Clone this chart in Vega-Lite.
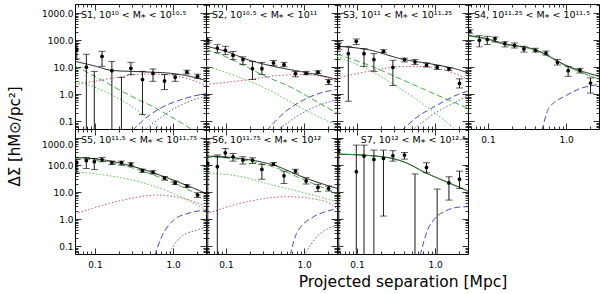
{
"$schema":"https://vega.github.io/schema/vega-lite/v6.json",
"padding":{"left":6,"top":3,"right":2,"bottom":2},
"background":"white",
"config":{
 "view":{"stroke":"black","strokeWidth":1},
 "axis":{"domain":false,"grid":false,"tickColor":"black","tickWidth":0.8,"labelFont":"DejaVu Sans","labelFontSize":9,"labelColor":"black","labelOverlap":false,"labelFlush":false,"titleFont":"DejaVu Sans","titleFontWeight":"normal","titleColor":"black","titleFontSize":15},
 "title":{"anchor":"start","frame":"group","offset":-16,"dx":6,"font":"DejaVu Sans","fontSize":9.5,"fontWeight":"normal","color":"black"}
},
"datasets":{
 "pts":[
  {"p":"S1","r":0.0585,"y":45,"lo":20,"hi":75},{"p":"S1","r":0.0775,"y":10,"lo":0.01,"hi":30},{"p":"S1","r":0.098,"y":null,"lo":0.01,"hi":7.0},{"p":"S1","r":0.123,"y":25,"lo":10.8,"hi":38.5},{"p":"S1","r":0.1645,"y":7.4,"lo":0.01,"hi":16.4},{"p":"S1","r":0.218,"y":null,"lo":0.01,"hi":4.2},{"p":"S1","r":0.288,"y":9.1,"lo":5.3,"hi":15.1},{"p":"S1","r":0.405,"y":3.5,"lo":0.177,"hi":7.0},{"p":"S1","r":0.552,"y":5.9,"lo":3.0,"hi":8.6},{"p":"S1","r":0.775,"y":3.1,"lo":1.48,"hi":5.3},{"p":"S1","r":1.06,"y":4.2,"lo":3.0,"hi":5.3},{"p":"S1","r":1.5,"y":6.5,"lo":5.6,"hi":7.7},{"p":"S1","r":2.05,"y":4.6,"lo":3.9,"hi":5.5},
  {"p":"S2","r":0.0585,"y":98,"lo":80,"hi":125},{"p":"S2","r":0.0775,"y":51,"lo":35,"hi":68},{"p":"S2","r":0.098,"y":42,"lo":29,"hi":59},{"p":"S2","r":0.123,"y":27,"lo":19,"hi":38},{"p":"S2","r":0.1645,"y":19,"lo":12.4,"hi":24},{"p":"S2","r":0.218,"y":8.8,"lo":3.5,"hi":16.4},{"p":"S2","r":0.288,"y":8.8,"lo":5.3,"hi":15.1},{"p":"S2","r":0.405,"y":14.3,"lo":11.7,"hi":17.7},{"p":"S2","r":0.552,"y":12.4,"lo":10.4,"hi":15.1},{"p":"S2","r":0.775,"y":5.8,"lo":4.4,"hi":7.0},{"p":"S2","r":1.06,"y":5.9,"lo":5.3,"hi":7.0},{"p":"S2","r":1.5,"y":6.5,"lo":5.8,"hi":7.3},{"p":"S2","r":2.05,"y":2.9,"lo":2.3,"hi":3.5},
  {"p":"S3","r":0.0585,"y":59,"lo":44,"hi":78},{"p":"S3","r":0.0775,"y":31.6,"lo":0.55,"hi":59},{"p":"S3","r":0.098,"y":90,"lo":68,"hi":110},{"p":"S3","r":0.123,"y":31.6,"lo":10.7,"hi":48},{"p":"S3","r":0.1645,"y":19,"lo":7,"hi":31.6},{"p":"S3","r":0.218,"y":38.5,"lo":34,"hi":44},{"p":"S3","r":0.288,"y":9.9,"lo":2.1,"hi":18},{"p":"S3","r":0.405,"y":19,"lo":15.6,"hi":21.6},{"p":"S3","r":0.552,"y":15.6,"lo":12.4,"hi":19},{"p":"S3","r":0.775,"y":12,"lo":10.1,"hi":14.3},{"p":"S3","r":1.06,"y":9.9,"lo":8.2,"hi":11.7},{"p":"S3","r":1.5,"y":8.6,"lo":7.7,"hi":9.6},{"p":"S3","r":2.05,"y":2.5,"lo":1.7,"hi":3.7},
  {"p":"S4","r":0.0585,"y":210,"lo":180,"hi":240},{"p":"S4","r":0.0775,"y":98,"lo":56,"hi":146},{"p":"S4","r":0.098,"y":104,"lo":68,"hi":138},{"p":"S4","r":0.123,"y":113,"lo":85,"hi":130},{"p":"S4","r":0.1645,"y":74,"lo":56,"hi":87},{"p":"S4","r":0.218,"y":64,"lo":51,"hi":78},{"p":"S4","r":0.288,"y":47,"lo":36,"hi":59},{"p":"S4","r":0.405,"y":42,"lo":36,"hi":50},{"p":"S4","r":0.552,"y":33,"lo":28,"hi":39.5},{"p":"S4","r":0.775,"y":15.1,"lo":12,"hi":19},{"p":"S4","r":1.06,"y":7.4,"lo":4.6,"hi":10.7},{"p":"S4","r":1.5,"y":7.7,"lo":6.1,"hi":9.1},{"p":"S4","r":2.05,"y":2.6,"lo":1.1,"hi":4.0},
  {"p":"S5","r":0.0585,"y":122,"lo":49,"hi":162},{"p":"S5","r":0.0775,"y":145,"lo":75,"hi":192},{"p":"S5","r":0.098,"y":133,"lo":69,"hi":175},{"p":"S5","r":0.123,"y":157,"lo":133,"hi":192},{"p":"S5","r":0.1645,"y":122,"lo":105,"hi":140},{"p":"S5","r":0.218,"y":122,"lo":100,"hi":140},{"p":"S5","r":0.288,"y":106,"lo":92,"hi":122},{"p":"S5","r":0.405,"y":62,"lo":54,"hi":71},{"p":"S5","r":0.552,"y":54,"lo":47,"hi":62},{"p":"S5","r":0.775,"y":33,"lo":28,"hi":38},{"p":"S5","r":1.06,"y":22,"lo":19,"hi":25.5},{"p":"S5","r":1.5,"y":16.8,"lo":15,"hi":18.8},{"p":"S5","r":2.05,"y":7.8,"lo":6.4,"hi":9.5},
  {"p":"S6","r":0.0585,"y":116,"lo":0.01,"hi":650},{"p":"S6","r":0.0775,"y":87,"lo":0.01,"hi":236},{"p":"S6","r":0.098,"y":285,"lo":192,"hi":412},{"p":"S6","r":0.123,"y":203,"lo":140,"hi":270},{"p":"S6","r":0.1645,"y":153,"lo":109,"hi":203},{"p":"S6","r":0.218,"y":153,"lo":115,"hi":186},{"p":"S6","r":0.288,"y":69,"lo":30,"hi":106},{"p":"S6","r":0.405,"y":109,"lo":96,"hi":125},{"p":"S6","r":0.552,"y":40,"lo":21,"hi":60},{"p":"S6","r":0.775,"y":60,"lo":50,"hi":70},{"p":"S6","r":1.06,"y":26,"lo":20,"hi":34},{"p":"S6","r":1.5,"y":15,"lo":10.4,"hi":19.5},{"p":"S6","r":2.05,"y":13.8,"lo":11,"hi":16.8},
  {"p":"S7","r":0.0585,"y":360,"lo":0.01,"hi":900},{"p":"S7","r":0.098,"y":57,"lo":0.01,"hi":547},{"p":"S7","r":0.123,"y":215,"lo":0.01,"hi":547},{"p":"S7","r":0.1645,"y":162,"lo":0.01,"hi":358},{"p":"S7","r":0.218,"y":176,"lo":1.31,"hi":358},{"p":"S7","r":0.288,"y":221,"lo":140,"hi":340},{"p":"S7","r":0.405,"y":234,"lo":166,"hi":293},{"p":"S7","r":0.552,"y":null,"lo":0.01,"hi":47},{"p":"S7","r":0.775,"y":82,"lo":52,"hi":122},{"p":"S7","r":1.06,"y":null,"lo":0.01,"hi":13},{"p":"S7","r":1.5,"y":22,"lo":5.1,"hi":37},{"p":"S7","r":2.05,"y":30,"lo":13.8,"hi":60}
 ],
 "mod":[
  {"p":"S1","c":"tot","r":0.0555,"v":16.4},{"p":"S1","c":"tot","r":0.1,"v":11},{"p":"S1","c":"tot","r":0.164,"v":7.6},{"p":"S1","c":"tot","r":0.374,"v":6.8},{"p":"S1","c":"tot","r":1.0,"v":5.8},{"p":"S1","c":"tot","r":1.8,"v":4.3},{"p":"S1","c":"tot","r":2.63,"v":3.2},
  {"p":"S1","c":"g1","r":0.0555,"v":11},{"p":"S1","c":"g1","r":0.119,"v":3.5},{"p":"S1","c":"g1","r":0.2,"v":1.5},{"p":"S1","c":"g1","r":0.317,"v":0.75},{"p":"S1","c":"g1","r":0.55,"v":0.35},{"p":"S1","c":"g1","r":0.86,"v":0.17},{"p":"S1","c":"g1","r":1.3,"v":0.085},{"p":"S1","c":"g1","r":1.8,"v":0.045},
  {"p":"S1","c":"g2","r":0.0555,"v":3.2},{"p":"S1","c":"g2","r":0.1,"v":1.8},{"p":"S1","c":"g2","r":0.2,"v":0.7},{"p":"S1","c":"g2","r":0.35,"v":0.25},{"p":"S1","c":"g2","r":0.55,"v":0.09},{"p":"S1","c":"g2","r":0.8,"v":0.04},
  {"p":"S1","c":"red","r":0.0555,"v":2.3},{"p":"S1","c":"red","r":0.1,"v":3.0},{"p":"S1","c":"red","r":0.2,"v":4.3},{"p":"S1","c":"red","r":0.4,"v":5.5},{"p":"S1","c":"red","r":0.8,"v":5.3},{"p":"S1","c":"red","r":1.5,"v":3.8},{"p":"S1","c":"red","r":2.63,"v":2.1},
  {"p":"S1","c":"b1","r":0.3,"v":0.045},{"p":"S1","c":"b1","r":0.5,"v":0.17},{"p":"S1","c":"b1","r":0.8,"v":0.38},{"p":"S1","c":"b1","r":1.2,"v":0.6},{"p":"S1","c":"b1","r":1.8,"v":0.85},{"p":"S1","c":"b1","r":2.63,"v":1.05},
  {"p":"S1","c":"b2","r":0.42,"v":0.045},{"p":"S1","c":"b2","r":0.7,"v":0.14},{"p":"S1","c":"b2","r":1.0,"v":0.28},{"p":"S1","c":"b2","r":1.5,"v":0.5},{"p":"S1","c":"b2","r":2.63,"v":0.85},
  {"p":"S2","c":"tot","r":0.0555,"v":60},{"p":"S2","c":"tot","r":0.1,"v":38},{"p":"S2","c":"tot","r":0.2,"v":18},{"p":"S2","c":"tot","r":0.405,"v":10.7},{"p":"S2","c":"tot","r":1.0,"v":6.5},{"p":"S2","c":"tot","r":2.0,"v":4.3},{"p":"S2","c":"tot","r":2.63,"v":3.5},
  {"p":"S2","c":"g1","r":0.0555,"v":45},{"p":"S2","c":"g1","r":0.1,"v":24},{"p":"S2","c":"g1","r":0.156,"v":13},{"p":"S2","c":"g1","r":0.3,"v":5},{"p":"S2","c":"g1","r":0.68,"v":1.8},{"p":"S2","c":"g1","r":1.5,"v":0.5},{"p":"S2","c":"g1","r":2.63,"v":0.2},
  {"p":"S2","c":"g2","r":0.0555,"v":11},{"p":"S2","c":"g2","r":0.156,"v":4},{"p":"S2","c":"g2","r":0.4,"v":1.2},{"p":"S2","c":"g2","r":0.68,"v":0.5},{"p":"S2","c":"g2","r":1.5,"v":0.15},{"p":"S2","c":"g2","r":2.63,"v":0.07},
  {"p":"S2","c":"red","r":0.0555,"v":2.3},{"p":"S2","c":"red","r":0.2,"v":3.5},{"p":"S2","c":"red","r":0.5,"v":5},{"p":"S2","c":"red","r":1.0,"v":5.3},{"p":"S2","c":"red","r":2.0,"v":4},{"p":"S2","c":"red","r":2.63,"v":3},
  {"p":"S2","c":"b1","r":0.33,"v":0.045},{"p":"S2","c":"b1","r":0.6,"v":0.25},{"p":"S2","c":"b1","r":1.0,"v":0.63},{"p":"S2","c":"b1","r":1.6,"v":1.1},{"p":"S2","c":"b1","r":2.63,"v":1.5},
  {"p":"S2","c":"b2","r":0.45,"v":0.045},{"p":"S2","c":"b2","r":0.8,"v":0.15},{"p":"S2","c":"b2","r":1.3,"v":0.32},{"p":"S2","c":"b2","r":2.63,"v":0.63},
  {"p":"S3","c":"tot","r":0.0555,"v":59},{"p":"S3","c":"tot","r":0.14,"v":44},{"p":"S3","c":"tot","r":0.374,"v":20},{"p":"S3","c":"tot","r":1.0,"v":12.4},{"p":"S3","c":"tot","r":2.0,"v":8},{"p":"S3","c":"tot","r":2.63,"v":6.1},
  {"p":"S3","c":"g1","r":0.0555,"v":30},{"p":"S3","c":"g1","r":0.14,"v":12},{"p":"S3","c":"g1","r":0.374,"v":3.5},{"p":"S3","c":"g1","r":1.0,"v":1},{"p":"S3","c":"g1","r":2.63,"v":0.3},
  {"p":"S3","c":"g2","r":0.0555,"v":25},{"p":"S3","c":"g2","r":0.14,"v":8},{"p":"S3","c":"g2","r":0.374,"v":1.5},{"p":"S3","c":"g2","r":1.0,"v":0.2},{"p":"S3","c":"g2","r":1.8,"v":0.05},
  {"p":"S3","c":"red","r":0.0555,"v":4},{"p":"S3","c":"red","r":0.14,"v":7},{"p":"S3","c":"red","r":0.374,"v":10.5},{"p":"S3","c":"red","r":0.7,"v":10.5},{"p":"S3","c":"red","r":1.5,"v":7},{"p":"S3","c":"red","r":2.63,"v":3.5},
  {"p":"S3","c":"b1","r":0.37,"v":0.045},{"p":"S3","c":"b1","r":0.6,"v":0.15},{"p":"S3","c":"b1","r":1.0,"v":0.36},{"p":"S3","c":"b1","r":2.0,"v":1.0},{"p":"S3","c":"b1","r":2.63,"v":1.3},
  {"p":"S3","c":"b2","r":0.5,"v":0.045},{"p":"S3","c":"b2","r":1.0,"v":0.2},{"p":"S3","c":"b2","r":1.8,"v":0.5},{"p":"S3","c":"b2","r":2.63,"v":0.9},
  {"p":"S4","c":"tot","r":0.0555,"v":150},{"p":"S4","c":"tot","r":0.1,"v":110},{"p":"S4","c":"tot","r":0.151,"v":77},{"p":"S4","c":"tot","r":0.405,"v":44},{"p":"S4","c":"tot","r":1.07,"v":10.7},{"p":"S4","c":"tot","r":2.63,"v":4.6},
  {"p":"S4","c":"gs","r":0.0555,"v":142},{"p":"S4","c":"gs","r":0.1,"v":104},{"p":"S4","c":"gs","r":0.151,"v":73},{"p":"S4","c":"gs","r":0.405,"v":42},{"p":"S4","c":"gs","r":1.07,"v":10},{"p":"S4","c":"gs","r":2.63,"v":3.6},
  {"p":"S4","c":"b1","r":0.49,"v":0.045},{"p":"S4","c":"b1","r":0.6,"v":0.3},{"p":"S4","c":"b1","r":1.0,"v":0.9},{"p":"S4","c":"b1","r":1.5,"v":1.6},{"p":"S4","c":"b1","r":2.63,"v":2.3},
  {"p":"S5","c":"tot","r":0.0555,"v":190},{"p":"S5","c":"tot","r":0.14,"v":150},{"p":"S5","c":"tot","r":0.374,"v":75},{"p":"S5","c":"tot","r":1.0,"v":28},{"p":"S5","c":"tot","r":2.63,"v":9},
  {"p":"S5","c":"g1","r":0.0555,"v":170},{"p":"S5","c":"g1","r":0.14,"v":135},{"p":"S5","c":"g1","r":0.374,"v":65},{"p":"S5","c":"g1","r":1.0,"v":22},{"p":"S5","c":"g1","r":2.63,"v":6},
  {"p":"S5","c":"g2","r":0.0555,"v":57},{"p":"S5","c":"g2","r":0.14,"v":42},{"p":"S5","c":"g2","r":0.374,"v":24},{"p":"S5","c":"g2","r":1.0,"v":9},{"p":"S5","c":"g2","r":2.63,"v":2.2},
  {"p":"S5","c":"red","r":0.0555,"v":1.55},{"p":"S5","c":"red","r":0.229,"v":5.1},{"p":"S5","c":"red","r":0.61,"v":7.8},{"p":"S5","c":"red","r":1.35,"v":5.9},{"p":"S5","c":"red","r":2.63,"v":2.9},
  {"p":"S5","c":"b1","r":0.58,"v":0.045},{"p":"S5","c":"b1","r":0.7,"v":0.2},{"p":"S5","c":"b1","r":1.0,"v":0.9},{"p":"S5","c":"b1","r":1.5,"v":1.6},{"p":"S5","c":"b1","r":2.63,"v":2.2},
  {"p":"S5","c":"b2","r":0.86,"v":0.045},{"p":"S5","c":"b2","r":1.2,"v":0.2},{"p":"S5","c":"b2","r":2.0,"v":0.4},{"p":"S5","c":"b2","r":2.63,"v":0.5},
  {"p":"S6","c":"tot","r":0.0555,"v":215},{"p":"S6","c":"tot","r":0.151,"v":176},{"p":"S6","c":"tot","r":0.405,"v":100},{"p":"S6","c":"tot","r":1.07,"v":32},{"p":"S6","c":"tot","r":2.63,"v":13.8},
  {"p":"S6","c":"g1","r":0.0555,"v":200},{"p":"S6","c":"g1","r":0.151,"v":160},{"p":"S6","c":"g1","r":0.405,"v":85},{"p":"S6","c":"g1","r":1.07,"v":26},{"p":"S6","c":"g1","r":2.63,"v":9},
  {"p":"S6","c":"g2","r":0.0555,"v":52},{"p":"S6","c":"g2","r":0.151,"v":38},{"p":"S6","c":"g2","r":0.405,"v":18},{"p":"S6","c":"g2","r":1.07,"v":9},{"p":"S6","c":"g2","r":2.63,"v":4.4},
  {"p":"S6","c":"red","r":0.0555,"v":1.55},{"p":"S6","c":"red","r":0.184,"v":4.4},{"p":"S6","c":"red","r":0.6,"v":6.8},{"p":"S6","c":"red","r":1.77,"v":4.8},{"p":"S6","c":"red","r":2.63,"v":2.5},
  {"p":"S6","c":"b1","r":0.66,"v":0.045},{"p":"S6","c":"b1","r":0.8,"v":0.3},{"p":"S6","c":"b1","r":1.32,"v":1.24},{"p":"S6","c":"b1","r":2.0,"v":2.0},{"p":"S6","c":"b1","r":2.63,"v":2.5},
  {"p":"S6","c":"b2","r":0.99,"v":0.045},{"p":"S6","c":"b2","r":1.5,"v":0.25},{"p":"S6","c":"b2","r":2.0,"v":0.45},{"p":"S6","c":"b2","r":2.63,"v":0.6},
  {"p":"S7","c":"tot","r":0.0555,"v":255},{"p":"S7","c":"tot","r":0.218,"v":200},{"p":"S7","c":"tot","r":0.4,"v":130},{"p":"S7","c":"tot","r":0.775,"v":50},{"p":"S7","c":"tot","r":1.5,"v":22},{"p":"S7","c":"tot","r":2.63,"v":11},
  {"p":"S7","c":"gs","r":0.0555,"v":255},{"p":"S7","c":"gs","r":0.218,"v":200},{"p":"S7","c":"gs","r":0.4,"v":130},{"p":"S7","c":"gs","r":0.775,"v":50},{"p":"S7","c":"gs","r":1.5,"v":22},{"p":"S7","c":"gs","r":2.63,"v":11},
  {"p":"S7","c":"b1","r":0.64,"v":0.045},{"p":"S7","c":"b1","r":0.8,"v":0.4},{"p":"S7","c":"b1","r":1.0,"v":1.1},{"p":"S7","c":"b1","r":1.35,"v":2.0},{"p":"S7","c":"b1","r":2.0,"v":2.8},{"p":"S7","c":"b1","r":2.63,"v":2.9}
 ]
},
"columns":4,
"spacing":0,
"bounds":"flush",
"concat":[
 {"width":131,"height":125,"title":{"text":"S1, 10¹⁰ < M⁎ < 10¹⁰·⁵"},
  "layer":[
   {"layer":[
    {"data":{"name":"mod"},"transform":[{"filter":"datum.p=='S1'"}],"mark":{"type":"line","clip":true,"strokeWidth":0.9,"interpolate":"monotone"},
     "encoding":{"x":{"field":"r","type":"quantitative","scale":{"type":"log","domain":[0.0555,2.63],"nice":false},"axis":{"orient":"bottom","values":[0.06,0.07,0.08,0.09,0.1,0.2,0.3,0.4,0.5,0.6,0.7,0.8,0.9,1,2],"title":null,"tickSize":{"condition":{"test":"abs(log(datum.value)/LN10-round(log(datum.value)/LN10))<0.01","value":-6},"value":-3},"labels":false}},
      "y":{"field":"v","type":"quantitative","scale":{"type":"log","domain":[0.052,2150],"nice":false},"axis":{"orient":"left","values":[0.06,0.07,0.08,0.09,0.1,0.2,0.3,0.4,0.5,0.6,0.7,0.8,0.9,1,2,3,4,5,6,7,8,9,10,20,30,40,50,60,70,80,90,100,200,300,400,500,600,700,800,900,1000],"title":"ΔΣ [hM⊙/pc²]","titleX":-61,"titleY":132,"titleAlign":"center","titleBaseline":"middle","titleAngle":270,"tickSize":{"condition":{"test":"abs(log(datum.value)/LN10-round(log(datum.value)/LN10))<0.01","value":-6},"value":-3},"labelExpr":"abs(log(datum.value)/LN10-round(log(datum.value)/LN10))<0.01 ? format(datum.value,'.1f') : ''","labelPadding":8}},
      "color":{"field":"c","type":"nominal","scale":{"domain":["tot","gs","g1","g2","red","b1","b2"],"range":["#000000","#2e8b2e","#33a333","#44b844","#c8406a","#3535b5","#4848c4"]},"legend":null},
      "strokeDash":{"field":"c","type":"nominal","scale":{"domain":["tot","gs","g1","g2","red","b1","b2"],"range":[[1,0],[1,0],[6,3],[1.5,2],[1.5,2],[6,3],[1.5,2]]},"legend":null}}},
    {"data":{"name":"pts"},"transform":[{"filter":"datum.p=='S1'"}],"mark":{"type":"rule","clip":true,"color":"black","strokeWidth":0.9},"encoding":{"x":{"field":"r","type":"quantitative"},"y":{"field":"lo","type":"quantitative"},"y2":{"field":"hi"}}},
    {"data":{"name":"pts"},"transform":[{"filter":"datum.p=='S1'"}],"mark":{"type":"tick","clip":true,"orient":"horizontal","size":7,"thickness":0.9,"color":"black"},"encoding":{"x":{"field":"r","type":"quantitative"},"y":{"field":"hi","type":"quantitative"}}},
    {"data":{"name":"pts"},"transform":[{"filter":"datum.p=='S1'"}],"mark":{"type":"tick","clip":true,"orient":"horizontal","size":7,"thickness":0.9,"color":"black"},"encoding":{"x":{"field":"r","type":"quantitative"},"y":{"field":"lo","type":"quantitative"}}},
    {"data":{"name":"pts"},"transform":[{"filter":"datum.p=='S1'"}],"mark":{"type":"circle","clip":true,"size":14,"color":"black","opacity":1},"encoding":{"x":{"field":"r","type":"quantitative"},"y":{"field":"y","type":"quantitative"}}}
   ]},
   {"data":{"name":"pts"},"transform":[{"filter":"datum.p=='S1'"}],"mark":{"type":"point","opacity":0},
    "encoding":{"x":{"field":"r","type":"quantitative","scale":{"type":"log","domain":[0.0555,2.63],"nice":false},"axis":{"orient":"top","values":[0.06,0.07,0.08,0.09,0.1,0.2,0.3,0.4,0.5,0.6,0.7,0.8,0.9,1,2],"title":null,"tickSize":{"condition":{"test":"abs(log(datum.value)/LN10-round(log(datum.value)/LN10))<0.01","value":-6},"value":-3},"labels":false}},
     "y":{"field":"hi","type":"quantitative","scale":{"type":"log","domain":[0.052,2150],"nice":false},"axis":{"orient":"right","values":[0.06,0.07,0.08,0.09,0.1,0.2,0.3,0.4,0.5,0.6,0.7,0.8,0.9,1,2,3,4,5,6,7,8,9,10,20,30,40,50,60,70,80,90,100,200,300,400,500,600,700,800,900,1000,2000],"title":null,"tickSize":{"condition":{"test":"abs(log(datum.value)/LN10-round(log(datum.value)/LN10))<0.01","value":-6},"value":-3},"labels":false}}}}
  ],
  "resolve":{"axis":{"x":"independent","y":"independent"}}},

 {"width":131,"height":125,"title":{"text":"S2, 10¹⁰·⁵ < M⁎ < 10¹¹"},
  "layer":[
   {"layer":[
    {"data":{"name":"mod"},"transform":[{"filter":"datum.p=='S2'"}],"mark":{"type":"line","clip":true,"strokeWidth":0.9,"interpolate":"monotone"},
     "encoding":{"x":{"field":"r","type":"quantitative","scale":{"type":"log","domain":[0.0555,2.63],"nice":false},"axis":{"orient":"bottom","values":[0.06,0.07,0.08,0.09,0.1,0.2,0.3,0.4,0.5,0.6,0.7,0.8,0.9,1,2],"title":null,"tickSize":{"condition":{"test":"abs(log(datum.value)/LN10-round(log(datum.value)/LN10))<0.01","value":-6},"value":-3},"labels":false}},
      "y":{"field":"v","type":"quantitative","scale":{"type":"log","domain":[0.052,2150],"nice":false},"axis":{"orient":"left","values":[0.06,0.07,0.08,0.09,0.1,0.2,0.3,0.4,0.5,0.6,0.7,0.8,0.9,1,2,3,4,5,6,7,8,9,10,20,30,40,50,60,70,80,90,100,200,300,400,500,600,700,800,900,1000,2000],"title":null,"tickSize":{"condition":{"test":"abs(log(datum.value)/LN10-round(log(datum.value)/LN10))<0.01","value":-6},"value":-3},"labels":false}},
      "color":{"field":"c","type":"nominal","scale":{"domain":["tot","gs","g1","g2","red","b1","b2"],"range":["#000000","#2e8b2e","#33a333","#44b844","#c8406a","#3535b5","#4848c4"]},"legend":null},
      "strokeDash":{"field":"c","type":"nominal","scale":{"domain":["tot","gs","g1","g2","red","b1","b2"],"range":[[1,0],[1,0],[6,3],[1.5,2],[1.5,2],[6,3],[1.5,2]]},"legend":null}}},
    {"data":{"name":"pts"},"transform":[{"filter":"datum.p=='S2'"}],"mark":{"type":"rule","clip":true,"color":"black","strokeWidth":0.9},"encoding":{"x":{"field":"r","type":"quantitative"},"y":{"field":"lo","type":"quantitative"},"y2":{"field":"hi"}}},
    {"data":{"name":"pts"},"transform":[{"filter":"datum.p=='S2'"}],"mark":{"type":"tick","clip":true,"orient":"horizontal","size":7,"thickness":0.9,"color":"black"},"encoding":{"x":{"field":"r","type":"quantitative"},"y":{"field":"hi","type":"quantitative"}}},
    {"data":{"name":"pts"},"transform":[{"filter":"datum.p=='S2'"}],"mark":{"type":"tick","clip":true,"orient":"horizontal","size":7,"thickness":0.9,"color":"black"},"encoding":{"x":{"field":"r","type":"quantitative"},"y":{"field":"lo","type":"quantitative"}}},
    {"data":{"name":"pts"},"transform":[{"filter":"datum.p=='S2'"}],"mark":{"type":"circle","clip":true,"size":14,"color":"black","opacity":1},"encoding":{"x":{"field":"r","type":"quantitative"},"y":{"field":"y","type":"quantitative"}}}
   ]},
   {"data":{"name":"pts"},"transform":[{"filter":"datum.p=='S2'"}],"mark":{"type":"point","opacity":0},
    "encoding":{"x":{"field":"r","type":"quantitative","scale":{"type":"log","domain":[0.0555,2.63],"nice":false},"axis":{"orient":"top","values":[0.06,0.07,0.08,0.09,0.1,0.2,0.3,0.4,0.5,0.6,0.7,0.8,0.9,1,2],"title":null,"tickSize":{"condition":{"test":"abs(log(datum.value)/LN10-round(log(datum.value)/LN10))<0.01","value":-6},"value":-3},"labels":false}},
     "y":{"field":"hi","type":"quantitative","scale":{"type":"log","domain":[0.052,2150],"nice":false},"axis":{"orient":"right","values":[0.06,0.07,0.08,0.09,0.1,0.2,0.3,0.4,0.5,0.6,0.7,0.8,0.9,1,2,3,4,5,6,7,8,9,10,20,30,40,50,60,70,80,90,100,200,300,400,500,600,700,800,900,1000,2000],"title":null,"tickSize":{"condition":{"test":"abs(log(datum.value)/LN10-round(log(datum.value)/LN10))<0.01","value":-6},"value":-3},"labels":false}}}}
  ],
  "resolve":{"axis":{"x":"independent","y":"independent"}}},

 {"width":131,"height":125,"title":{"text":"S3, 10¹¹ < M⁎ < 10¹¹·²⁵"},
  "layer":[
   {"layer":[
    {"data":{"name":"mod"},"transform":[{"filter":"datum.p=='S3'"}],"mark":{"type":"line","clip":true,"strokeWidth":0.9,"interpolate":"monotone"},
     "encoding":{"x":{"field":"r","type":"quantitative","scale":{"type":"log","domain":[0.0555,2.63],"nice":false},"axis":{"orient":"bottom","values":[0.06,0.07,0.08,0.09,0.1,0.2,0.3,0.4,0.5,0.6,0.7,0.8,0.9,1,2],"title":null,"tickSize":{"condition":{"test":"abs(log(datum.value)/LN10-round(log(datum.value)/LN10))<0.01","value":-6},"value":-3},"labels":false}},
      "y":{"field":"v","type":"quantitative","scale":{"type":"log","domain":[0.052,2150],"nice":false},"axis":{"orient":"left","values":[0.06,0.07,0.08,0.09,0.1,0.2,0.3,0.4,0.5,0.6,0.7,0.8,0.9,1,2,3,4,5,6,7,8,9,10,20,30,40,50,60,70,80,90,100,200,300,400,500,600,700,800,900,1000,2000],"title":null,"tickSize":{"condition":{"test":"abs(log(datum.value)/LN10-round(log(datum.value)/LN10))<0.01","value":-6},"value":-3},"labels":false}},
      "color":{"field":"c","type":"nominal","scale":{"domain":["tot","gs","g1","g2","red","b1","b2"],"range":["#000000","#2e8b2e","#33a333","#44b844","#c8406a","#3535b5","#4848c4"]},"legend":null},
      "strokeDash":{"field":"c","type":"nominal","scale":{"domain":["tot","gs","g1","g2","red","b1","b2"],"range":[[1,0],[1,0],[6,3],[1.5,2],[1.5,2],[6,3],[1.5,2]]},"legend":null}}},
    {"data":{"name":"pts"},"transform":[{"filter":"datum.p=='S3'"}],"mark":{"type":"rule","clip":true,"color":"black","strokeWidth":0.9},"encoding":{"x":{"field":"r","type":"quantitative"},"y":{"field":"lo","type":"quantitative"},"y2":{"field":"hi"}}},
    {"data":{"name":"pts"},"transform":[{"filter":"datum.p=='S3'"}],"mark":{"type":"tick","clip":true,"orient":"horizontal","size":7,"thickness":0.9,"color":"black"},"encoding":{"x":{"field":"r","type":"quantitative"},"y":{"field":"hi","type":"quantitative"}}},
    {"data":{"name":"pts"},"transform":[{"filter":"datum.p=='S3'"}],"mark":{"type":"tick","clip":true,"orient":"horizontal","size":7,"thickness":0.9,"color":"black"},"encoding":{"x":{"field":"r","type":"quantitative"},"y":{"field":"lo","type":"quantitative"}}},
    {"data":{"name":"pts"},"transform":[{"filter":"datum.p=='S3'"}],"mark":{"type":"circle","clip":true,"size":14,"color":"black","opacity":1},"encoding":{"x":{"field":"r","type":"quantitative"},"y":{"field":"y","type":"quantitative"}}}
   ]},
   {"data":{"name":"pts"},"transform":[{"filter":"datum.p=='S3'"}],"mark":{"type":"point","opacity":0},
    "encoding":{"x":{"field":"r","type":"quantitative","scale":{"type":"log","domain":[0.0555,2.63],"nice":false},"axis":{"orient":"top","values":[0.06,0.07,0.08,0.09,0.1,0.2,0.3,0.4,0.5,0.6,0.7,0.8,0.9,1,2],"title":null,"tickSize":{"condition":{"test":"abs(log(datum.value)/LN10-round(log(datum.value)/LN10))<0.01","value":-6},"value":-3},"labels":false}},
     "y":{"field":"hi","type":"quantitative","scale":{"type":"log","domain":[0.052,2150],"nice":false},"axis":{"orient":"right","values":[0.06,0.07,0.08,0.09,0.1,0.2,0.3,0.4,0.5,0.6,0.7,0.8,0.9,1,2,3,4,5,6,7,8,9,10,20,30,40,50,60,70,80,90,100,200,300,400,500,600,700,800,900,1000,2000],"title":null,"tickSize":{"condition":{"test":"abs(log(datum.value)/LN10-round(log(datum.value)/LN10))<0.01","value":-6},"value":-3},"labels":false}}}}
  ],
  "resolve":{"axis":{"x":"independent","y":"independent"}}},

 {"width":131,"height":125,"title":{"text":"S4, 10¹¹·²⁵ < M⁎ < 10¹¹·⁵"},
  "layer":[
   {"layer":[
    {"data":{"name":"mod"},"transform":[{"filter":"datum.p=='S4'"}],"mark":{"type":"line","clip":true,"strokeWidth":0.9,"interpolate":"monotone"},
     "encoding":{"x":{"field":"r","type":"quantitative","scale":{"type":"log","domain":[0.0555,2.63],"nice":false},"axis":{"orient":"bottom","values":[0.06,0.07,0.08,0.09,0.1,0.2,0.3,0.4,0.5,0.6,0.7,0.8,0.9,1,2],"title":null,"tickSize":{"condition":{"test":"abs(log(datum.value)/LN10-round(log(datum.value)/LN10))<0.01","value":-6},"value":-3},"labelExpr":"abs(log(datum.value)/LN10-round(log(datum.value)/LN10))<0.01 ? format(datum.value,'.1f') : ''","labelPadding":12}},
      "y":{"field":"v","type":"quantitative","scale":{"type":"log","domain":[0.052,2150],"nice":false},"axis":{"orient":"left","values":[0.06,0.07,0.08,0.09,0.1,0.2,0.3,0.4,0.5,0.6,0.7,0.8,0.9,1,2,3,4,5,6,7,8,9,10,20,30,40,50,60,70,80,90,100,200,300,400,500,600,700,800,900,1000,2000],"title":null,"tickSize":{"condition":{"test":"abs(log(datum.value)/LN10-round(log(datum.value)/LN10))<0.01","value":-6},"value":-3},"labels":false}},
      "color":{"field":"c","type":"nominal","scale":{"domain":["tot","gs","g1","g2","red","b1","b2"],"range":["#000000","#2e8b2e","#33a333","#44b844","#c8406a","#3535b5","#4848c4"]},"legend":null},
      "strokeDash":{"field":"c","type":"nominal","scale":{"domain":["tot","gs","g1","g2","red","b1","b2"],"range":[[1,0],[1,0],[6,3],[1.5,2],[1.5,2],[6,3],[1.5,2]]},"legend":null}}},
    {"data":{"name":"pts"},"transform":[{"filter":"datum.p=='S4'"}],"mark":{"type":"rule","clip":true,"color":"black","strokeWidth":0.9},"encoding":{"x":{"field":"r","type":"quantitative"},"y":{"field":"lo","type":"quantitative"},"y2":{"field":"hi"}}},
    {"data":{"name":"pts"},"transform":[{"filter":"datum.p=='S4'"}],"mark":{"type":"tick","clip":true,"orient":"horizontal","size":7,"thickness":0.9,"color":"black"},"encoding":{"x":{"field":"r","type":"quantitative"},"y":{"field":"hi","type":"quantitative"}}},
    {"data":{"name":"pts"},"transform":[{"filter":"datum.p=='S4'"}],"mark":{"type":"tick","clip":true,"orient":"horizontal","size":7,"thickness":0.9,"color":"black"},"encoding":{"x":{"field":"r","type":"quantitative"},"y":{"field":"lo","type":"quantitative"}}},
    {"data":{"name":"pts"},"transform":[{"filter":"datum.p=='S4'"}],"mark":{"type":"circle","clip":true,"size":14,"color":"black","opacity":1},"encoding":{"x":{"field":"r","type":"quantitative"},"y":{"field":"y","type":"quantitative"}}}
   ]},
   {"data":{"name":"pts"},"transform":[{"filter":"datum.p=='S4'"}],"mark":{"type":"point","opacity":0},
    "encoding":{"x":{"field":"r","type":"quantitative","scale":{"type":"log","domain":[0.0555,2.63],"nice":false},"axis":{"orient":"top","values":[0.06,0.07,0.08,0.09,0.1,0.2,0.3,0.4,0.5,0.6,0.7,0.8,0.9,1,2],"title":null,"tickSize":{"condition":{"test":"abs(log(datum.value)/LN10-round(log(datum.value)/LN10))<0.01","value":-6},"value":-3},"labels":false}},
     "y":{"field":"hi","type":"quantitative","scale":{"type":"log","domain":[0.052,2150],"nice":false},"axis":{"orient":"right","values":[0.06,0.07,0.08,0.09,0.1,0.2,0.3,0.4,0.5,0.6,0.7,0.8,0.9,1,2,3,4,5,6,7,8,9,10,20,30,40,50,60,70,80,90,100,200,300,400,500,600,700,800,900,1000,2000],"title":null,"tickSize":{"condition":{"test":"abs(log(datum.value)/LN10-round(log(datum.value)/LN10))<0.01","value":-6},"value":-3},"labels":false}}}}
  ],
  "resolve":{"axis":{"x":"independent","y":"independent"}}},

 {"width":131,"height":125,"title":{"text":"S5, 10¹¹·⁵ < M⁎ < 10¹¹·⁷⁵"},
  "layer":[
   {"layer":[
    {"data":{"name":"mod"},"transform":[{"filter":"datum.p=='S5'"}],"mark":{"type":"line","clip":true,"strokeWidth":0.9,"interpolate":"monotone"},
     "encoding":{"x":{"field":"r","type":"quantitative","scale":{"type":"log","domain":[0.0555,2.63],"nice":false},"axis":{"orient":"bottom","values":[0.06,0.07,0.08,0.09,0.1,0.2,0.3,0.4,0.5,0.6,0.7,0.8,0.9,1,2],"title":null,"tickSize":{"condition":{"test":"abs(log(datum.value)/LN10-round(log(datum.value)/LN10))<0.01","value":-6},"value":-3},"labelExpr":"abs(log(datum.value)/LN10-round(log(datum.value)/LN10))<0.01 ? format(datum.value,'.1f') : ''","labelPadding":12}},
      "y":{"field":"v","type":"quantitative","scale":{"type":"log","domain":[0.052,2150],"nice":false},"axis":{"orient":"left","values":[0.06,0.07,0.08,0.09,0.1,0.2,0.3,0.4,0.5,0.6,0.7,0.8,0.9,1,2,3,4,5,6,7,8,9,10,20,30,40,50,60,70,80,90,100,200,300,400,500,600,700,800,900,1000],"title":null,"tickSize":{"condition":{"test":"abs(log(datum.value)/LN10-round(log(datum.value)/LN10))<0.01","value":-6},"value":-3},"labelExpr":"abs(log(datum.value)/LN10-round(log(datum.value)/LN10))<0.01 ? format(datum.value,'.1f') : ''","labelPadding":8,"labelOffset":{"condition":{"test":"datum.value>999","value":6},"value":0}}},
      "color":{"field":"c","type":"nominal","scale":{"domain":["tot","gs","g1","g2","red","b1","b2"],"range":["#000000","#2e8b2e","#33a333","#44b844","#c8406a","#3535b5","#4848c4"]},"legend":null},
      "strokeDash":{"field":"c","type":"nominal","scale":{"domain":["tot","gs","g1","g2","red","b1","b2"],"range":[[1,0],[1,0],[6,3],[1.5,2],[1.5,2],[6,3],[1.5,2]]},"legend":null}}},
    {"data":{"name":"pts"},"transform":[{"filter":"datum.p=='S5'"}],"mark":{"type":"rule","clip":true,"color":"black","strokeWidth":0.9},"encoding":{"x":{"field":"r","type":"quantitative"},"y":{"field":"lo","type":"quantitative"},"y2":{"field":"hi"}}},
    {"data":{"name":"pts"},"transform":[{"filter":"datum.p=='S5'"}],"mark":{"type":"tick","clip":true,"orient":"horizontal","size":7,"thickness":0.9,"color":"black"},"encoding":{"x":{"field":"r","type":"quantitative"},"y":{"field":"hi","type":"quantitative"}}},
    {"data":{"name":"pts"},"transform":[{"filter":"datum.p=='S5'"}],"mark":{"type":"tick","clip":true,"orient":"horizontal","size":7,"thickness":0.9,"color":"black"},"encoding":{"x":{"field":"r","type":"quantitative"},"y":{"field":"lo","type":"quantitative"}}},
    {"data":{"name":"pts"},"transform":[{"filter":"datum.p=='S5'"}],"mark":{"type":"circle","clip":true,"size":14,"color":"black","opacity":1},"encoding":{"x":{"field":"r","type":"quantitative"},"y":{"field":"y","type":"quantitative"}}}
   ]},
   {"data":{"name":"pts"},"transform":[{"filter":"datum.p=='S5'"}],"mark":{"type":"point","opacity":0},
    "encoding":{"x":{"field":"r","type":"quantitative","scale":{"type":"log","domain":[0.0555,2.63],"nice":false},"axis":{"orient":"top","values":[0.06,0.07,0.08,0.09,0.1,0.2,0.3,0.4,0.5,0.6,0.7,0.8,0.9,1,2],"title":null,"tickSize":{"condition":{"test":"abs(log(datum.value)/LN10-round(log(datum.value)/LN10))<0.01","value":-6},"value":-3},"labels":false}},
     "y":{"field":"hi","type":"quantitative","scale":{"type":"log","domain":[0.052,2150],"nice":false},"axis":{"orient":"right","values":[0.06,0.07,0.08,0.09,0.1,0.2,0.3,0.4,0.5,0.6,0.7,0.8,0.9,1,2,3,4,5,6,7,8,9,10,20,30,40,50,60,70,80,90,100,200,300,400,500,600,700,800,900,1000,2000],"title":null,"tickSize":{"condition":{"test":"abs(log(datum.value)/LN10-round(log(datum.value)/LN10))<0.01","value":-6},"value":-3},"labels":false}}}}
  ],
  "resolve":{"axis":{"x":"independent","y":"independent"}}},

 {"width":131,"height":125,"title":{"text":"S6, 10¹¹·⁷⁵ < M⁎ < 10¹²"},
  "layer":[
   {"layer":[
    {"data":{"name":"mod"},"transform":[{"filter":"datum.p=='S6'"}],"mark":{"type":"line","clip":true,"strokeWidth":0.9,"interpolate":"monotone"},
     "encoding":{"x":{"field":"r","type":"quantitative","scale":{"type":"log","domain":[0.0555,2.63],"nice":false},"axis":{"orient":"bottom","values":[0.06,0.07,0.08,0.09,0.1,0.2,0.3,0.4,0.5,0.6,0.7,0.8,0.9,1,2],"title":null,"tickSize":{"condition":{"test":"abs(log(datum.value)/LN10-round(log(datum.value)/LN10))<0.01","value":-6},"value":-3},"labelExpr":"abs(log(datum.value)/LN10-round(log(datum.value)/LN10))<0.01 ? format(datum.value,'.1f') : ''","labelPadding":12}},
      "y":{"field":"v","type":"quantitative","scale":{"type":"log","domain":[0.052,2150],"nice":false},"axis":{"orient":"left","values":[0.06,0.07,0.08,0.09,0.1,0.2,0.3,0.4,0.5,0.6,0.7,0.8,0.9,1,2,3,4,5,6,7,8,9,10,20,30,40,50,60,70,80,90,100,200,300,400,500,600,700,800,900,1000,2000],"title":null,"tickSize":{"condition":{"test":"abs(log(datum.value)/LN10-round(log(datum.value)/LN10))<0.01","value":-6},"value":-3},"labels":false}},
      "color":{"field":"c","type":"nominal","scale":{"domain":["tot","gs","g1","g2","red","b1","b2"],"range":["#000000","#2e8b2e","#33a333","#44b844","#c8406a","#3535b5","#4848c4"]},"legend":null},
      "strokeDash":{"field":"c","type":"nominal","scale":{"domain":["tot","gs","g1","g2","red","b1","b2"],"range":[[1,0],[1,0],[6,3],[1.5,2],[1.5,2],[6,3],[1.5,2]]},"legend":null}}},
    {"data":{"name":"pts"},"transform":[{"filter":"datum.p=='S6'"}],"mark":{"type":"rule","clip":true,"color":"black","strokeWidth":0.9},"encoding":{"x":{"field":"r","type":"quantitative"},"y":{"field":"lo","type":"quantitative"},"y2":{"field":"hi"}}},
    {"data":{"name":"pts"},"transform":[{"filter":"datum.p=='S6'"}],"mark":{"type":"tick","clip":true,"orient":"horizontal","size":7,"thickness":0.9,"color":"black"},"encoding":{"x":{"field":"r","type":"quantitative"},"y":{"field":"hi","type":"quantitative"}}},
    {"data":{"name":"pts"},"transform":[{"filter":"datum.p=='S6'"}],"mark":{"type":"tick","clip":true,"orient":"horizontal","size":7,"thickness":0.9,"color":"black"},"encoding":{"x":{"field":"r","type":"quantitative"},"y":{"field":"lo","type":"quantitative"}}},
    {"data":{"name":"pts"},"transform":[{"filter":"datum.p=='S6'"}],"mark":{"type":"circle","clip":true,"size":14,"color":"black","opacity":1},"encoding":{"x":{"field":"r","type":"quantitative"},"y":{"field":"y","type":"quantitative"}}}
   ]},
   {"data":{"name":"pts"},"transform":[{"filter":"datum.p=='S6'"}],"mark":{"type":"point","opacity":0},
    "encoding":{"x":{"field":"r","type":"quantitative","scale":{"type":"log","domain":[0.0555,2.63],"nice":false},"axis":{"orient":"top","values":[0.06,0.07,0.08,0.09,0.1,0.2,0.3,0.4,0.5,0.6,0.7,0.8,0.9,1,2],"title":null,"tickSize":{"condition":{"test":"abs(log(datum.value)/LN10-round(log(datum.value)/LN10))<0.01","value":-6},"value":-3},"labels":false}},
     "y":{"field":"hi","type":"quantitative","scale":{"type":"log","domain":[0.052,2150],"nice":false},"axis":{"orient":"right","values":[0.06,0.07,0.08,0.09,0.1,0.2,0.3,0.4,0.5,0.6,0.7,0.8,0.9,1,2,3,4,5,6,7,8,9,10,20,30,40,50,60,70,80,90,100,200,300,400,500,600,700,800,900,1000,2000],"title":null,"tickSize":{"condition":{"test":"abs(log(datum.value)/LN10-round(log(datum.value)/LN10))<0.01","value":-6},"value":-3},"labels":false}}}}
  ],
  "resolve":{"axis":{"x":"independent","y":"independent"}}},

 {"width":131,"height":125,"title":{"text":"S7, 10¹² < M⁎ < 10¹²·⁵","anchor":"end","dx":-2},
  "layer":[
   {"layer":[
    {"data":{"name":"mod"},"transform":[{"filter":"datum.p=='S7'"}],"mark":{"type":"line","clip":true,"strokeWidth":0.9,"interpolate":"monotone"},
     "encoding":{"x":{"field":"r","type":"quantitative","scale":{"type":"log","domain":[0.0555,2.63],"nice":false},"axis":{"orient":"bottom","values":[0.06,0.07,0.08,0.09,0.1,0.2,0.3,0.4,0.5,0.6,0.7,0.8,0.9,1,2],"title":"Projected separation [Mpc]","titleFontSize":15.5,"titlePadding":2,"tickSize":{"condition":{"test":"abs(log(datum.value)/LN10-round(log(datum.value)/LN10))<0.01","value":-6},"value":-3},"labelExpr":"abs(log(datum.value)/LN10-round(log(datum.value)/LN10))<0.01 ? format(datum.value,'.1f') : ''","labelPadding":12}},
      "y":{"field":"v","type":"quantitative","scale":{"type":"log","domain":[0.052,2150],"nice":false},"axis":{"orient":"left","values":[0.06,0.07,0.08,0.09,0.1,0.2,0.3,0.4,0.5,0.6,0.7,0.8,0.9,1,2,3,4,5,6,7,8,9,10,20,30,40,50,60,70,80,90,100,200,300,400,500,600,700,800,900,1000,2000],"title":null,"tickSize":{"condition":{"test":"abs(log(datum.value)/LN10-round(log(datum.value)/LN10))<0.01","value":-6},"value":-3},"labels":false}},
      "color":{"field":"c","type":"nominal","scale":{"domain":["tot","gs","g1","g2","red","b1","b2"],"range":["#000000","#2e8b2e","#33a333","#44b844","#c8406a","#3535b5","#4848c4"]},"legend":null},
      "strokeDash":{"field":"c","type":"nominal","scale":{"domain":["tot","gs","g1","g2","red","b1","b2"],"range":[[1,0],[1,0],[6,3],[1.5,2],[1.5,2],[6,3],[1.5,2]]},"legend":null}}},
    {"data":{"name":"pts"},"transform":[{"filter":"datum.p=='S7'"}],"mark":{"type":"rule","clip":true,"color":"black","strokeWidth":0.9},"encoding":{"x":{"field":"r","type":"quantitative"},"y":{"field":"lo","type":"quantitative"},"y2":{"field":"hi"}}},
    {"data":{"name":"pts"},"transform":[{"filter":"datum.p=='S7'"}],"mark":{"type":"tick","clip":true,"orient":"horizontal","size":7,"thickness":0.9,"color":"black"},"encoding":{"x":{"field":"r","type":"quantitative"},"y":{"field":"hi","type":"quantitative"}}},
    {"data":{"name":"pts"},"transform":[{"filter":"datum.p=='S7'"}],"mark":{"type":"tick","clip":true,"orient":"horizontal","size":7,"thickness":0.9,"color":"black"},"encoding":{"x":{"field":"r","type":"quantitative"},"y":{"field":"lo","type":"quantitative"}}},
    {"data":{"name":"pts"},"transform":[{"filter":"datum.p=='S7'"}],"mark":{"type":"circle","clip":true,"size":14,"color":"black","opacity":1},"encoding":{"x":{"field":"r","type":"quantitative"},"y":{"field":"y","type":"quantitative"}}}
   ]},
   {"data":{"name":"pts"},"transform":[{"filter":"datum.p=='S7'"}],"mark":{"type":"point","opacity":0},
    "encoding":{"x":{"field":"r","type":"quantitative","scale":{"type":"log","domain":[0.0555,2.63],"nice":false},"axis":{"orient":"top","values":[0.06,0.07,0.08,0.09,0.1,0.2,0.3,0.4,0.5,0.6,0.7,0.8,0.9,1,2],"title":null,"tickSize":{"condition":{"test":"abs(log(datum.value)/LN10-round(log(datum.value)/LN10))<0.01","value":-6},"value":-3},"labels":false}},
     "y":{"field":"hi","type":"quantitative","scale":{"type":"log","domain":[0.052,2150],"nice":false},"axis":{"orient":"right","values":[0.06,0.07,0.08,0.09,0.1,0.2,0.3,0.4,0.5,0.6,0.7,0.8,0.9,1,2,3,4,5,6,7,8,9,10,20,30,40,50,60,70,80,90,100,200,300,400,500,600,700,800,900,1000,2000],"title":null,"tickSize":{"condition":{"test":"abs(log(datum.value)/LN10-round(log(datum.value)/LN10))<0.01","value":-6},"value":-3},"labels":false}}}}
  ],
  "resolve":{"axis":{"x":"independent","y":"independent"}}}
]
}
